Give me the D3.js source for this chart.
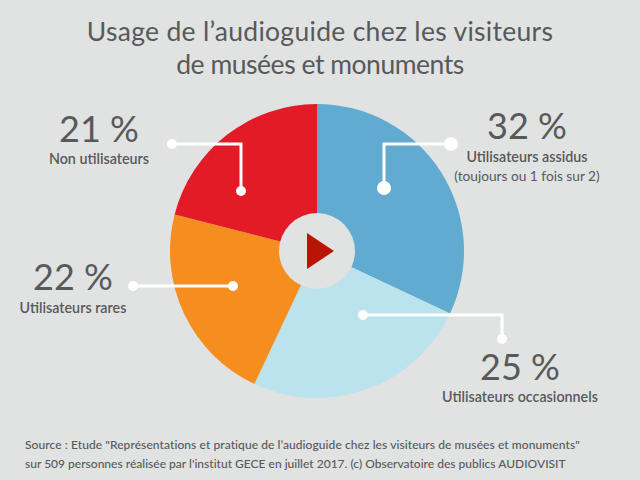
<!DOCTYPE html>
<html>
<head>
<meta charset="utf-8">
<script src="https://cdn.jsdelivr.net/npm/d3@7"></script>
<style>
html, body { margin: 0; padding: 0; background: #e1e2e2; }
svg { display: block; }
text { font-family: Lato, sans-serif; fill: #58595b; }
</style>
</head>
<body>
<script>
// data
const categories = ['Utilisateurs assidus', 'Utilisateurs occasionnels', 'Utilisateurs rares', 'Non utilisateurs'];
const values = [32, 25, 22, 21];
const colors = ['#62abd0', '#bae3ed', '#f68d1f', '#e21b26'];
const titleLines = ['Usage de l’audioguide chez les visiteurs', 'de musées et monuments'];
const sourceLines = [
  'Source : Etude "Représentations et pratique de l’audioguide chez les visiteurs de musées et monuments"',
  "sur 509 personnes réalisée par l'institut GECE en juillet 2017. (c) Observatoire des publics AUDIOVISIT"
];

const width = 640, height = 480;
const cx = 317, cy = 251, radius = 147, hole = 38;

const svg = d3.select('body').append('svg').attr('width', width).attr('height', height);
svg.append('rect').attr('width', width).attr('height', height).attr('fill', '#e1e2e2');

// title
const titleSpacing = [0.3, -0.47];
svg.selectAll('.title').data(titleLines).join('text')
  .attr('class', 'title')
  .attr('x', 320)
  .attr('y', (d, i) => 41 + i * 33)
  .attr('text-anchor', 'middle')
  .attr('font-size', 26.5)
  .attr('letter-spacing', (d, i) => titleSpacing[i])
  .text(d => d);

// pie
const pie = d3.pie().sort(null);
const arc = d3.arc().innerRadius(0).outerRadius(radius);
const g = svg.append('g').attr('transform', `translate(${cx},${cy})`);
g.selectAll('path').data(pie(values)).join('path')
  .attr('d', arc)
  .attr('fill', (d, i) => colors[i]);

// play button
g.append('circle').attr('r', hole).attr('fill', '#e1e2e2');
g.append('path').attr('d', 'M-10,-18L17,0L-10,18Z').attr('fill', '#b81504');

// leader lines
const leaders = [
  { pts: [[451, 144], [384, 144], [384, 188]], r: 7 },
  { pts: [[363, 315], [502, 315], [502, 339]], r: 5 },
  { pts: [[133, 286], [233, 286]], r: 5 },
  { pts: [[172, 144], [241, 144], [241, 191]], r: 5 }
];
const line = d3.line();
leaders.forEach(l => {
  svg.append('path').attr('d', line(l.pts))
    .attr('fill', 'none').attr('stroke', '#fff').attr('stroke-width', 3);
  [l.pts[0], l.pts[l.pts.length - 1]].forEach(p => {
    svg.append('circle').attr('cx', p[0]).attr('cy', p[1]).attr('r', l.r).attr('fill', '#fff');
  });
});

// labels
const labelPos = [
  { x: 527, y: 139, ly: 162 },
  { x: 520, y: 380, ly: 402 },
  { x: 73, y: 290, ly: 313 },
  { x: 99, y: 142, ly: 164 }
];
categories.forEach((c, i) => {
  svg.append('text').attr('x', labelPos[i].x).attr('y', labelPos[i].y)
    .attr('text-anchor', 'middle').attr('font-size', 36)
    .text(values[i] + ' %');
  svg.append('text').attr('x', labelPos[i].x).attr('y', labelPos[i].ly)
    .attr('text-anchor', 'middle').attr('font-size', 14.3).attr('font-weight', 600)
    .text(c);
});
svg.append('text').attr('x', 527).attr('y', 181)
  .attr('text-anchor', 'middle').attr('font-size', 13.7)
  .text('(toujours ou 1 fois sur 2)');

// source
const sourceSpacing = [0.08, 0.01];
svg.selectAll('.source').data(sourceLines).join('text')
  .attr('class', 'source')
  .attr('x', 25)
  .attr('y', (d, i) => 449 + i * 19)
  .attr('font-size', 12)
  .attr('font-weight', 500)
  .attr('letter-spacing', (d, i) => sourceSpacing[i])
  .text(d => d);
</script>
</body>
</html>
